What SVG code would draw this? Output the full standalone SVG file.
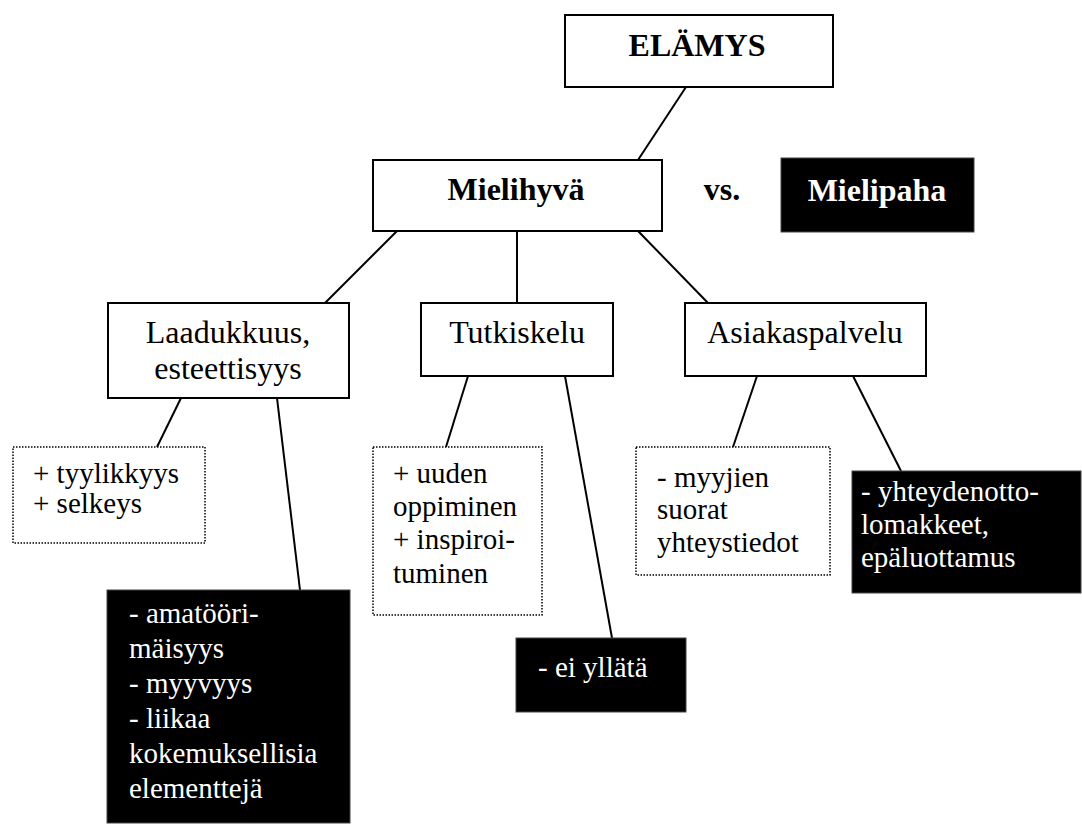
<svg xmlns="http://www.w3.org/2000/svg" width="1082" height="825" viewBox="0 0 1082 825" font-family="'Liberation Serif', 'DejaVu Serif', serif">
  <style>
    text { font-family: 'Liberation Serif', 'DejaVu Serif', serif; fill: #000; }
    .title { font-size: 32px; font-weight: bold; text-anchor: middle; }
    .head { font-size: 32px; text-anchor: middle; }
    .item { font-size: 29px; }
    .inv { fill: #fff; }
    .box { fill: #fff; stroke: #000; stroke-width: 2; }
    .dot { fill: #fff; stroke: #000; stroke-width: 1.5; stroke-dasharray: 1.5 1.5; }
    .neg { fill: #000; stroke: #444; stroke-width: 1; }
    .link { stroke: #000; stroke-width: 2; fill: none; }
  </style>

  <!-- connectors -->
  <g id="connectors">
    <line class="link" x1="686" y1="87" x2="638" y2="160"/>
    <line class="link" x1="397" y1="231" x2="325" y2="303"/>
    <line class="link" x1="517" y1="231" x2="517" y2="303"/>
    <line class="link" x1="638" y1="231" x2="708" y2="303"/>
    <line class="link" x1="181" y1="398" x2="157" y2="447"/>
    <line class="link" x1="277" y1="398" x2="300" y2="590"/>
    <line class="link" x1="468" y1="376" x2="446" y2="447"/>
    <line class="link" x1="565" y1="376" x2="612" y2="638"/>
    <line class="link" x1="757" y1="376" x2="733" y2="447"/>
    <line class="link" x1="853" y1="376" x2="901" y2="471"/>
  </g>

  <!-- top level -->
  <g id="elamys">
    <rect class="box" x="565" y="15" width="268" height="72"/>
    <text class="title" x="697" y="56">ELÄMYS</text>
  </g>

  <g id="mielihyva">
    <rect class="box" x="373" y="160" width="289" height="71"/>
    <text class="title" x="516" y="200">Mielihyvä</text>
  </g>

  <g id="vs">
    <text class="title" x="722" y="200">vs.</text>
  </g>

  <g id="mielipaha">
    <rect class="neg" x="781" y="158" width="193" height="74"/>
    <text class="title inv" x="877" y="201">Mielipaha</text>
  </g>

  <!-- categories -->
  <g id="laadukkuus">
    <rect class="box" x="108" y="303" width="241" height="95"/>
    <text class="head" x="228" y="343">Laadukkuus,</text>
    <text class="head" x="228" y="379">esteettisyys</text>
  </g>

  <g id="tutkiskelu">
    <rect class="box" x="421" y="303" width="192" height="73"/>
    <text class="head" x="517" y="343">Tutkiskelu</text>
  </g>

  <g id="asiakaspalvelu">
    <rect class="box" x="685" y="303" width="241" height="73"/>
    <text class="head" x="805" y="343">Asiakaspalvelu</text>
  </g>

  <!-- positive points -->
  <g id="tyylikkyys">
    <rect class="dot" x="13" y="447" width="192" height="96"/>
    <text class="item" x="33" y="483">+ tyylikkyys</text>
    <text class="item" x="33" y="513">+ selkeys</text>
  </g>

  <g id="oppiminen">
    <rect class="dot" x="373" y="447" width="169" height="168"/>
    <text class="item" x="393" y="483">+ uuden</text>
    <text class="item" x="393" y="516">oppiminen</text>
    <text class="item" x="393" y="549">+ inspiroi-</text>
    <text class="item" x="393" y="583">tuminen</text>
  </g>

  <g id="yhteystiedot">
    <rect class="dot" x="636" y="447" width="194" height="128"/>
    <text class="item" x="657" y="487">- myyjien</text>
    <text class="item" x="657" y="519">suorat</text>
    <text class="item" x="657" y="552">yhteystiedot</text>
  </g>

  <!-- negative points -->
  <g id="amatoorimaisyys">
    <rect class="neg" x="107" y="590" width="243" height="233"/>
    <text class="item inv" x="129" y="623">- amatööri-</text>
    <text class="item inv" x="129" y="658">mäisyys</text>
    <text class="item inv" x="129" y="693">- myyvyys</text>
    <text class="item inv" x="129" y="728">- liikaa</text>
    <text class="item inv" x="129" y="763">kokemuksellisia</text>
    <text class="item inv" x="129" y="798">elementtejä</text>
  </g>

  <g id="ei-yllata">
    <rect class="neg" x="516" y="638" width="170" height="74"/>
    <text class="item inv" x="538" y="677">- ei yllätä</text>
  </g>

  <g id="lomakkeet">
    <rect class="neg" x="852" y="471" width="229" height="122"/>
    <text class="item inv" x="861" y="501">- yhteydenotto-</text>
    <text class="item inv" x="861" y="534">lomakkeet,</text>
    <text class="item inv" x="861" y="567">epäluottamus</text>
  </g>
</svg>
